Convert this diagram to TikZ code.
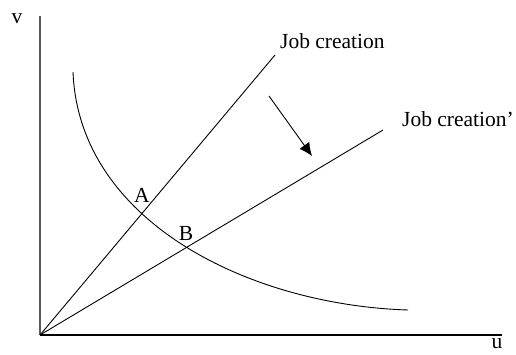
\documentclass[tikz,border=0pt]{standalone}
\usepackage{fontspec}
\setmainfont{Liberation Serif}
\usetikzlibrary{arrows.meta}
\begin{document}
\begin{tikzpicture}[x=1pt,y=-1pt,
  lbl/.style={inner sep=0pt,font=\fontsize{21.5}{24}\selectfont},
  ln/.style={line width=0.9pt,black},
  axisy/.style={line width=1.4pt,black!65},
  axisx/.style={line width=1.1pt,black}]
\useasboundingbox (0,0) rectangle (516,354);
\coordinate (O) at (40,335);
\coordinate (Ytop) at (40,16);
\coordinate (Xend) at (502,335);
\coordinate (L1) at (275,55);
\coordinate (L2) at (383,130);
\coordinate (C0) at (73,72);
\coordinate (C1) at (408,310);
\coordinate (Ar0) at (269,96);
\coordinate (Ar1) at (312,156);
\draw[axisy] (O) -- (Ytop);
\draw[axisx] (O) -- (Xend);
\draw[ln] (O) -- (L1);
\draw[ln] (O) -- (L2);
\draw[ln] (C0) .. controls (79,222) and (250,305) .. (C1);
\draw[ln,-{Latex[length=13pt,width=12pt]}] (Ar0) -- (Ar1);
\node[lbl] (v) at (17,19) {v};
\node[lbl] (u) at (497,344) {u};
\node[lbl] (A) at (142,195) {A};
\node[lbl] (B) at (186,233) {B};
\node[lbl,anchor=west] (jc) at (280,41) {Job creation};
\node[lbl,anchor=west] (jc2) at (402,119) {Job creation'};
\end{tikzpicture}
\end{document}
